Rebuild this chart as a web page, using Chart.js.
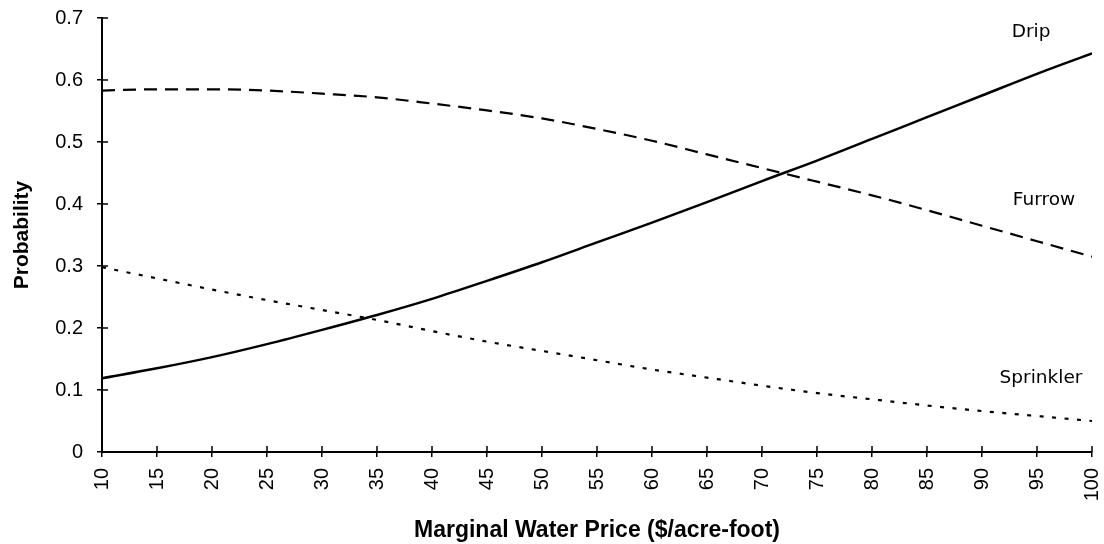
<!DOCTYPE html>
<html>
<head>
<meta charset="utf-8">
<title>Irrigation technology probability</title>
<script src="https://cdn.jsdelivr.net/npm/chart.js@4.4.1/dist/chart.umd.min.js"></script>
<style>
  html, body { margin: 0; padding: 0; background: #fff; }
  #wrap { width: 1104px; height: 544px; position: relative; }
</style>
</head>
<body>
<div id="wrap"><canvas id="probChart"></canvas></div>
<script>
// data
const prices = [10, 15, 20, 25, 30, 35, 40, 45, 50, 55, 60, 65, 70, 75, 80, 85, 90, 95, 100];
const drip = [0.119, 0.135, 0.153, 0.174, 0.197, 0.221, 0.247, 0.276, 0.306, 0.338, 0.370, 0.403, 0.437, 0.470, 0.505, 0.540, 0.575, 0.610, 0.643];
const furrow = [0.583, 0.585, 0.585, 0.583, 0.578, 0.572, 0.562, 0.551, 0.538, 0.521, 0.502, 0.480, 0.458, 0.436, 0.414, 0.390, 0.365, 0.340, 0.315];
const sprinkler = [0.298, 0.280, 0.262, 0.245, 0.229, 0.213, 0.195, 0.178, 0.163, 0.148, 0.133, 0.120, 0.107, 0.095, 0.085, 0.075, 0.066, 0.058, 0.050];
const seriesNames = ['Drip', 'Furrow', 'Sprinkler'];

const toPoints = vals => prices.map((p, i) => ({ x: p, y: vals[i] }));

// small tick marks that cross the axes
const crossTicks = {
    id: 'crossTicks',
    afterDraw(chart) {
        const c = chart.ctx;
        const xs = chart.scales.x, ys = chart.scales.y;
        const area = chart.chartArea;
        c.save();
        c.strokeStyle = '#000';
        c.lineWidth = 1.5;
        c.beginPath();
        xs.ticks.forEach(t => {
            const px = xs.getPixelForValue(t.value);
            c.moveTo(px, area.bottom - 6);
            c.lineTo(px, area.bottom);
        });
        ys.ticks.forEach(t => {
            const py = ys.getPixelForValue(t.value);
            c.moveTo(area.left, py);
            c.lineTo(area.left + 6, py);
        });
        c.stroke();
        c.restore();
    }
};

// series names written next to the curves
const seriesLabels = {
    id: 'seriesLabels',
    afterDatasetsDraw(chart) {
        const spots = [[92.7, 0.677], [92.8, 0.406], [91.6, 0.119]];
        const c = chart.ctx;
        const xs = chart.scales.x, ys = chart.scales.y;
        c.save();
        c.fillStyle = '#000';
        c.font = '18.5px "DejaVu Sans"';
        c.textAlign = 'left';
        c.textBaseline = 'middle';
        seriesNames.forEach((name, i) => {
            c.fillText(name, xs.getPixelForValue(spots[i][0]), ys.getPixelForValue(spots[i][1]));
        });
        c.restore();
    }
};

new Chart(document.getElementById('probChart'), {
    type: 'line',
    data: {
        datasets: [
            { label: seriesNames[0], data: toPoints(drip), borderColor: '#000', borderWidth: 2.5, borderDash: [] },
            { label: seriesNames[1], data: toPoints(furrow), borderColor: '#000', borderWidth: 2.2, borderDash: [13, 8] },
            { label: seriesNames[2], data: toPoints(sprinkler), borderColor: '#000', borderWidth: 2.2, borderDash: [4, 8.5] }
        ]
    },
    options: {
        responsive: true,
        maintainAspectRatio: false,
        animation: false,
        layout: { padding: { top: 18, right: 12, left: 0, bottom: 0 } },
        elements: {
            point: { radius: 0 },
            line: { cubicInterpolationMode: 'monotone', fill: false, borderCapStyle: 'butt' }
        },
        plugins: { legend: { display: false }, tooltip: { enabled: false } },
        scales: {
            x: {
                type: 'linear',
                min: 10,
                max: 100,
                afterFit: s => { s.height = 92; s.paddingLeft = 0; s.paddingRight = 0; },
                border: { display: true, color: '#000', width: 2 },
                grid: { drawOnChartArea: false, color: '#000', lineWidth: 1.5, tickLength: 5 },
                ticks: {
                    stepSize: 5,
                    autoSkip: false,
                    maxRotation: 90,
                    minRotation: 90,
                    padding: 11,
                    color: '#000',
                    font: { family: '"Liberation Sans", Arial', size: 20 }
                },
                title: {
                    display: true,
                    text: 'Marginal Water Price ($/acre-foot)',
                    color: '#000',
                    padding: 0,
                    font: { family: '"Liberation Sans", Arial', size: 23, weight: 'bold' }
                }
            },
            y: {
                min: 0,
                max: 0.7,
                afterFit: s => { s.width = 102; s.paddingTop = 0; s.paddingBottom = 0; },
                border: { display: true, color: '#000', width: 2 },
                grid: { drawOnChartArea: false, color: '#000', lineWidth: 1.5, tickLength: 5 },
                ticks: {
                    stepSize: 0.1,
                    padding: 14,
                    color: '#000',
                    font: { family: '"Liberation Sans", Arial', size: 20 }
                },
                title: {
                    display: true,
                    text: 'Probability',
                    color: '#000',
                    padding: { top: 10, bottom: 0 },
                    font: { family: '"Liberation Sans", Arial', size: 21, weight: 'bold' }
                }
            }
        }
    },
    plugins: [crossTicks, seriesLabels]
});
</script>
</body>
</html>
